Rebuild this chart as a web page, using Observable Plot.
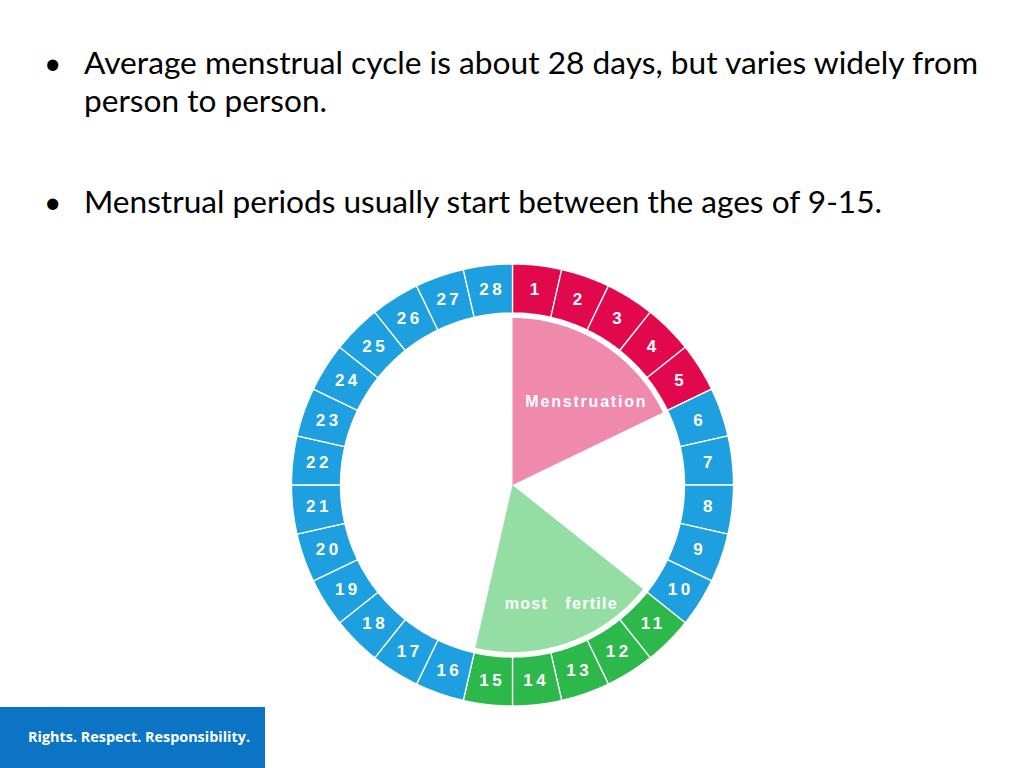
<!DOCTYPE html>
<html><head><meta charset="utf-8">
<script src="https://cdn.jsdelivr.net/npm/d3@7"></script>
<script src="https://cdn.jsdelivr.net/npm/@observablehq/plot@0.6"></script>
<style>
body{margin:0;width:1024px;height:768px;overflow:hidden;background:#fff;position:relative}
#topText{position:absolute;left:0;top:0}
#chart{position:absolute;left:0;top:255px}
#brand{position:absolute;left:0;top:707px;width:265px;height:61px;background:#0B74C5}
#brand svg{position:absolute;left:0;top:0}
</style></head><body>
<svg id="topText" width="1024" height="250"></svg>
<div id="chart"></div>
<div id="brand"><svg width="265" height="61"></svg></div>
<script>
// ---- data ----
const bullets = [
  "Average menstrual cycle is about 28 days, but varies widely from",
  "person to person.",
  "Menstrual periods usually start between the ages of 9-15."
];
const days = [1,2,3,4,5,6,7,8,9,10,11,12,13,14,15,16,17,18,19,20,21,22,23,24,25,26,27,28];
const phases = ["period","period","period","period","period",
  "normal","normal","normal","normal","normal",
  "fertile","fertile","fertile","fertile","fertile",
  "normal","normal","normal","normal","normal","normal","normal","normal","normal","normal","normal","normal","normal"];
const phaseColors = {period:"#E2084E", normal:"#1E9FE0", fertile:"#2DB84C"};
const wedgeNames = ["Menstruation", "most   fertile"];
const wedgeStartDay = [1, 11];
const wedgeEndDay = [5, 15];
const wedgeColors = ["#F08AAD", "#95DEA3"];
const wedgeLabelAngle = [41.3, 157.9];
const wedgeLabelRadius = [110.5, 128];
const brandText = "Rights. Respect. Responsibility.";

// ---- top text ----
const topSvg = d3.select("#topText");
const lines = [
  {t: bullets[0], y: 74, w: 894, bullet: true},
  {t: bullets[1], y: 112, w: 243, bullet: false},
  {t: bullets[2], y: 213, w: 798, bullet: true}
];
lines.forEach(l => {
  if (l.bullet) topSvg.append("text").attr("x", 44).attr("y", l.y).attr("font-family", "Lato, sans-serif").attr("font-size", 30).text("•");
  topSvg.append("text").attr("x", 84).attr("y", l.y)
    .attr("font-family", "Lato, 'Open Sans', sans-serif").attr("font-size", 30).attr("fill", "#000")
    .attr("textLength", l.w).attr("lengthAdjust", "spacingAndGlyphs").text(l.t);
});
d3.select("#brand svg").append("text").attr("x", 28).attr("y", 35)
  .attr("font-family", "'Open Sans', Lato, sans-serif").attr("font-size", 14).attr("font-weight", 700)
  .attr("fill", "#fff").attr("textLength", 222).attr("lengthAdjust", "spacingAndGlyphs").text(brandText);

// ---- geometry ----
const R0 = 172, R1 = 221, RW = 167, RL = 196.5;
const step = 360 / days.length;
const pt = (deg, r) => { const a = deg * Math.PI / 180; return [r * Math.sin(a), r * Math.cos(a)]; };
const ringRows = [];
days.forEach((d, i) => {
  const a0 = i * step, a1 = (i + 1) * step, n = 12, pts = [];
  for (let k = 0; k <= n; k++) pts.push(pt(a0 + (a1 - a0) * k / n, R1));
  for (let k = n; k >= 0; k--) pts.push(pt(a0 + (a1 - a0) * k / n, R0));
  pts.push(pts[0]);
  pts.forEach(([x, y]) => ringRows.push({day: d, x, y, color: phaseColors[phases[i]]}));
});
const dayLabels = days.map((d, i) => { const [x, y] = pt((i + 0.5) * step, RL); return {label: String(d), x, y}; });
const wedgeRows = [];
wedgeNames.forEach((name, j) => {
  const a0 = (wedgeStartDay[j] - 1) * step, a1 = wedgeEndDay[j] * step, n = 60;
  wedgeRows.push({name, x: 0, y: 0, color: wedgeColors[j]});
  for (let k = 0; k <= n; k++) { const [x, y] = pt(a0 + (a1 - a0) * k / n, RW); wedgeRows.push({name, x, y, color: wedgeColors[j]}); }
  wedgeRows.push({name, x: 0, y: 0, color: wedgeColors[j]});
});
const wedgeLabels = wedgeNames.map((name, j) => { const [x, y] = pt(wedgeLabelAngle[j], wedgeLabelRadius[j]); return {name, x, y}; });

const chart = Plot.plot({
  width: 1024, height: 460, margin: 0,
  x: {domain: [-512, 512], axis: null},
  y: {domain: [-230.5, 229.5], axis: null},
  color: {type: "identity"},
  marks: [
    Plot.line(ringRows, {x: "x", y: "y", z: "day", fill: "color", stroke: "white", strokeWidth: 1.3}),
    Plot.line(wedgeRows, {x: "x", y: "y", z: "name", fill: "color", stroke: "none"}),
    Plot.text(dayLabels, {x: "x", y: "y", text: "label", fill: "white", fontSize: 17, fontWeight: "bold", fontFamily: "'Liberation Sans', Arial, sans-serif"}),
    Plot.text(wedgeLabels, {x: "x", y: "y", text: "name", fill: "white", fontSize: 16, fontWeight: "bold", fontFamily: "'Liberation Sans', Arial, sans-serif"})
  ]
});
chart.querySelectorAll("text").forEach(t => {
  const s = t.textContent;
  const ls = /^\d+$/.test(s) ? (s.length > 1 ? 3.5 : 0) : (s === "Menstruation" ? 1.8 : 1.3);
  t.setAttribute("letter-spacing", ls);
  t.style.whiteSpace = "pre";
  t.setAttribute("dx", ls / 2);
});
document.getElementById("chart").appendChild(chart);
</script>
</body></html>
